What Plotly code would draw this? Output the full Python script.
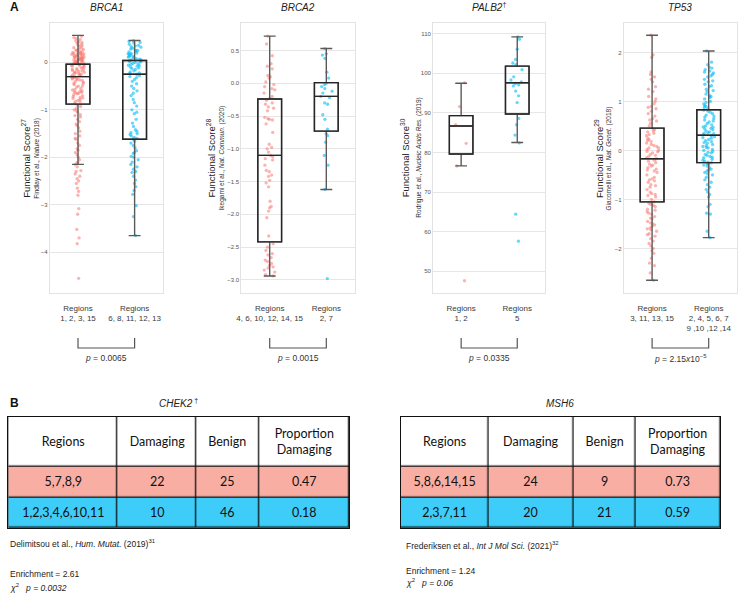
import plotly.graph_objects as go

W, H = 738, 594

# ---------------- data ----------------
genes = ["BRCA1", "BRCA2", "PALB2", "TP53"]
titles = ["<i>BRCA1</i>", "<i>BRCA2</i>", "<i>PALB2</i><sup>†</sup>", "<i>TP53</i>"]
cat_labels = [
    ["Regions<br>1, 2, 3, 15", "Regions<br>6, 8, 11, 12, 13"],
    ["Regions<br>4, 6, 10, 12, 14, 15", "Regions<br>2, 7"],
    ["Regions<br>1, 2", "Regions<br>5"],
    ["Regions<br>3, 11, 13, 15", "Regions<br>2, 4, 5, 6, 7<br>9 ,10 ,12 ,14"],
]
ref_sup = ["27", "28", "30", "29"]
ref_text = [
    "Findlay et al., <i>Nature</i> (2018)",
    "Ikegami et al., <i>Nat. Commun.</i> (2020)",
    "Rodrigue et al., <i>Nucleic Acids Res.</i> (2019)",
    "Giacomelli et al., <i>Nat. Genet.</i> (2018)",
]
p_values = ["<i>p</i> = 0.0065", "<i>p</i> = 0.0015", "<i>p</i> = 0.0335",
            "<i>p</i> = 2.15<i>x</i>10<sup>−5</sup>"]

# box statistics (red group, blue group): q1, median, q3, lowerfence, upperfence
box_stats = [
    [(-0.88, -0.30, -0.04, -2.15, 0.57), (-1.62, -0.25, 0.04, -3.65, 0.46)],
    [(-2.42, -1.10, -0.24, -2.94, 0.72), (-0.73, -0.20, 0.01, -1.62, 0.53)],
    [(79.6, 86.7, 89.3, 76.6, 97.5), (89.7, 97.6, 101.8, 82.5, 109.2)],
    [(-1.05, -0.17, 0.455, -2.65, 2.35), (-0.25, 0.31, 0.83, -1.78, 2.03)],
]

brca1_red = [0.55, 0.52, 0.48, 0.45, 0.43, 0.4, 0.38, 0.36, 0.33, 0.31, 0.3, 0.28, 0.26, 0.25,
             0.23, 0.22, 0.2, 0.19, 0.18, 0.17, 0.16, 0.15, 0.14, 0.13, 0.12, 0.11, 0.1, 0.09,
             0.08, 0.07, 0.06, 0.05, 0.04, 0.03, 0.02, 0.01, 0.0, -0.01, -0.02, -0.03, -0.04,
             -0.05, -0.06, -0.08, -0.1, -0.12, -0.14, -0.15, -0.17, -0.19, -0.2, -0.22, -0.24,
             -0.25, -0.27, -0.29, -0.3, -0.32, -0.34, -0.35, -0.37, -0.4, -0.42, -0.45, -0.47,
             -0.5, -0.52, -0.55, -0.57, -0.6, -0.62, -0.64, -0.66, -0.7, -0.72, -0.75, -0.78,
             -0.8, -0.83, -0.86, -0.9, -0.93, -0.97, -1.0, -1.05, -1.1, -1.15, -1.2, -1.25,
             -1.3, -1.38, -1.45, -1.5, -1.55, -1.62, -1.7, -1.75, -1.82, -1.9, -1.95, -2.0,
             -2.05, -2.1, -2.15, -2.2, -2.28, -2.35, -2.4, -2.45, -2.5, -2.55, -2.65, -2.72,
             -2.8, -3.08, -3.2, -3.52, -3.7, -3.82, -4.55,
             0.5, 0.42, 0.35, 0.27, 0.21, 0.16, 0.11, 0.06, 0.02, -0.02, -0.07, -0.13, -0.18,
             -0.23, -0.28, -0.33, -0.38, -0.44, -0.5, -0.58, -0.63, -0.68, -0.74, -0.82, 0.18,
             0.14, 0.08, 0.03, -0.03, -0.09, -0.16, -0.21, -0.26, -0.31, -0.36, -0.61, -0.65,
             -0.76, -1.02, -1.12, -1.33, -1.6, -1.85, -2.12, -2.3, -0.02, 0.1, 0.2, 0.05]
brca1_blue = [0.46, 0.44, 0.41, 0.38, 0.36, 0.33, 0.3, 0.28, 0.25, 0.22, 0.2, 0.18, 0.15, 0.13,
              0.1, 0.08, 0.06, 0.04, 0.02, 0.0, -0.02, -0.04, -0.06, -0.08, -0.1, -0.12, -0.15,
              -0.18, -0.2, -0.22, -0.25, -0.28, -0.32, -0.36, -0.4, -0.45, -0.5, -0.55, -0.6,
              -0.65, -0.7, -0.78, -0.85, -0.92, -1.0, -1.08, -1.2, -1.28, -1.35, -1.42, -1.48,
              -1.52, -1.55, -1.58, -1.62, -1.66, -1.7, -1.75, -1.8, -1.86, -1.92, -1.98, -2.05,
              -2.1, -2.15, -2.2, -2.25, -2.32, -2.4, -2.48, -2.55, -2.62, -2.7, -2.78, -3.02,
              -3.25, -3.65, 0.42, 0.35, 0.26, 0.17, 0.11, 0.05, 0.01, -0.03, -0.07, 0.03, 0.07,
              0.12, 0.19, 0.24, 0.32, -0.13, -0.23, -1.45, -1.5, -1.6, -1.9, -2.0, -2.3, -1.05,
              -0.3]
brca2_red = [0.72, 0.6, 0.42, 0.3, 0.26, 0.22, 0.12, 0.1, 0.08, 0.02, -0.02, -0.05, -0.08, -0.1,
             -0.15, -0.2, -0.23, -0.26, -0.3, -0.32, -0.36, -0.38, -0.42, -0.52, -0.54, -0.55,
             -0.56, -0.62, -0.75, -0.93, -0.98, -1.0, -1.05, -1.1, -1.12, -1.15, -1.17, -1.25,
             -1.33, -1.35, -1.4, -1.42, -1.48, -1.52, -1.58, -1.8, -1.88, -1.9, -1.95, -2.05,
             -2.33, -2.45, -2.5, -2.55, -2.6, -2.62, -2.66, -2.7, -2.72, -2.75, -2.78, -2.8,
             -2.82, -2.85, -2.88, -2.92, -2.94]
brca2_blue = [0.53, 0.45, 0.43, 0.38, 0.17, 0.08, 0.0, -0.02, -0.05, -0.08, -0.12, -0.15, -0.2,
              -0.22, -0.3, -0.32, -0.48, -0.55, -0.7, -0.77, -0.8, -0.9, -1.1, -1.25, -1.62, -2.98]
palb2_red = [97.6, 91.6, 87.0, 82.3, 76.6, 47.6]
palb2_blue = [109.2, 108.6, 106.1, 103.5, 102.6, 102.2, 100.9, 99.1, 98.3, 97.8, 97.4, 97.1,
              96.8, 95.5, 94.3, 92.6, 88.6, 87.0, 84.4, 82.4, 64.4, 57.6]
tp53_red = [2.35, 1.95, 1.9, 1.6, 1.55, 1.5, 1.45, 1.4, 1.3, 1.25, 1.2, 1.1, 1.0, 0.95, 0.9,
            0.85, 0.8, 0.75, 0.7, 0.65, 0.6, 0.55, 0.5, 0.45, 0.4, 0.38, 0.35, 0.3, 0.25, 0.2,
            0.15, 0.1, 0.08, 0.05, 0.02, 0.0, -0.03, -0.05, -0.08, -0.1, -0.12, -0.15, -0.17,
            -0.2, -0.22, -0.25, -0.28, -0.3, -0.35, -0.38, -0.4, -0.45, -0.5, -0.55, -0.58,
            -0.62, -0.65, -0.7, -0.75, -0.8, -0.85, -0.88, -0.9, -0.95, -1.0, -1.05, -1.08,
            -1.1, -1.15, -1.2, -1.25, -1.3, -1.35, -1.4, -1.45, -1.5, -1.55, -1.6, -1.65, -1.7,
            -1.75, -1.8, -1.85, -1.9, -1.95, -2.0, -2.05, -2.1, -2.2, -2.3, -2.35, -2.5, -2.65,
            0.05, -0.02, 0.12, 0.32, -0.42, -0.6, -0.72, -0.92, -1.12, -1.22, -1.28, -1.38,
            -1.48, -1.52, -1.58, -1.62, -1.72, 0.42, 0.62, 0.88, 1.05, -0.32, 0.18, 0.22]
tp53_blue = [2.03, 1.8, 1.75, 1.7, 1.68, 1.65, 1.62, 1.58, 1.55, 1.5, 1.45, 1.4, 1.35, 1.3,
             1.25, 1.2, 1.15, 1.1, 1.05, 1.0, 0.95, 0.9, 0.85, 0.8, 0.75, 0.7, 0.65, 0.6, 0.55,
             0.5, 0.45, 0.4, 0.35, 0.3, 0.25, 0.2, 0.15, 0.1, 0.05, 0.0, -0.05, -0.1, -0.15,
             -0.2, -0.25, -0.3, -0.35, -0.4, -0.45, -0.5, -0.55, -0.6, -0.7, -0.8, -0.85, -0.9,
             -0.95, -1.1, -1.15, -1.28, -1.3, -1.65, -1.78, 1.6, 1.42, 1.22, 1.08, 0.98, 0.88,
             0.78, 0.68, 0.62, 0.52, 0.47, 0.42, 0.38, 0.32, 0.28, 0.22, 0.18, 0.12, 0.08, 0.02,
             -0.02, -0.08, -0.12, -0.18, -0.22, -0.27, -0.32, -0.38, -0.42, -0.48, -0.65, -0.75,
             1.52, 1.12, 0.92, 0.72, 0.58, 0.48, 0.36, 0.26, 0.16, 0.06, -0.04, -0.14, -0.24,
             1.32, 0.82, 0.44, 0.34, -0.28]
points = [(brca1_red, brca1_blue), (brca2_red, brca2_blue),
          (palb2_red, palb2_blue), (tp53_red, tp53_blue)]

y_ranges = [[-4.86, 0.83], [-3.2, 0.92], [44.5, 112.7], [-2.91, 2.6]]
y_dticks = [1, 0.5, 10, 1]
y_formats = ["d", ".1f", "d", "d"]

# tables
table_header = ["Regions", "Damaging", "Benign", "Proportion<br>Damaging"]
chek2_regions = ["5,7,8,9", "1,2,3,4,6,10,11"]
chek2_damaging = [22, 10]
chek2_benign = [25, 46]
chek2_prop = ["0.47", "0.18"]
msh6_regions = ["5,8,6,14,15", "2,3,7,11"]
msh6_damaging = [24, 20]
msh6_benign = [9, 21]
msh6_prop = ["0.73", "0.59"]

# ---------------- layout helpers ----------------
def px(x):
    return x / W

def py(y):
    return 1 - y / H

FONT = "Liberation Sans, Arial, sans-serif"
RED_PT = "rgba(248,118,109,0.55)"
BLUE_PT = "rgba(0,186,245,0.6)"
plot_x = [(45, 159), (238, 352), (431, 544), (623, 737)]
plot_y = (23, 293)
title_main_x = [21, 207, 403, 598]
title_sub_x = [32, 218, 416.5, 608.5]

fig = go.Figure()
layout = dict(width=W, height=H, margin=dict(l=0, r=0, t=0, b=0),
              paper_bgcolor="white", plot_bgcolor="white", showlegend=False,
              font=dict(family=FONT, color="#333"), boxmode="overlay")
annotations = []
shapes = []

for i in range(4):
    xa = "x" if i == 0 else f"x{i+1}"
    ya = "y" if i == 0 else f"y{i+1}"
    cats = cat_labels[i]
    for g, (vals, col) in enumerate(zip(points[i], [RED_PT, BLUE_PT])):
        fig.add_trace(go.Box(
            x=[cats[g]] * len(vals), y=vals, xaxis=xa, yaxis=ya,
            boxpoints="all", jitter=0.55, pointpos=0, width=0.42,
            fillcolor="rgba(0,0,0,0)", line=dict(width=0, color="rgba(0,0,0,0)"),
            marker=dict(size=3.3, color=col, line=dict(width=0)),
            hoverinfo="skip"))
    for g in range(2):
        q1, med, q3, lo, hi = box_stats[i][g]
        # whiskers (grey)
        fig.add_trace(go.Box(
            x=[cats[g]], q1=[q1], median=[med], q3=[q3], lowerfence=[lo], upperfence=[hi],
            xaxis=xa, yaxis=ya, boxpoints=False, width=0.42, whiskerwidth=0.5,
            fillcolor="rgba(0,0,0,0)", line=dict(width=1.4, color="#5a5a5a"),
            hoverinfo="skip"))
        # box body (dark)
        fig.add_trace(go.Box(
            x=[cats[g]], q1=[q1], median=[med], q3=[q3], lowerfence=[q1], upperfence=[q3],
            xaxis=xa, yaxis=ya, boxpoints=False, width=0.42, whiskerwidth=0,
            fillcolor="rgba(0,0,0,0)", line=dict(width=1.4, color="#262626"),
            hoverinfo="skip"))
    x0, x1 = plot_x[i]
    layout["xaxis" if i == 0 else f"xaxis{i+1}"] = dict(
        domain=[px(x0), px(x1)], anchor=ya, type="category", categoryorder="array",
        categoryarray=cats, range=[-0.5, 1.5], showgrid=False, zeroline=False,
        showline=True, mirror=True, linecolor="#e3e3e3", linewidth=1, ticks="",
        ticklabelstandoff=7, tickfont=dict(size=8, color="#3a3a3a", family=FONT))
    layout["yaxis" if i == 0 else f"yaxis{i+1}"] = dict(
        domain=[py(plot_y[1]), py(plot_y[0])], anchor=xa, range=y_ranges[i],
        dtick=y_dticks[i], tickformat=y_formats[i], showgrid=True, gridcolor="#e6e6e6",
        gridwidth=1, zeroline=False, showline=True, mirror=True, linecolor="#e3e3e3",
        linewidth=1, ticks="", tickfont=dict(size=6, color="#555", family=FONT))
    cx = (x0 + x1) / 2
    annotations.append(dict(text=titles[i], x=px(cx), y=py(7), xref="paper", yref="paper",
                            showarrow=False, font=dict(size=10, color="#222", family=FONT),
                            xanchor="center", yanchor="middle"))
    annotations.append(dict(text=f"Functional Score<sup>{ref_sup[i]}</sup>",
                            x=px(title_main_x[i]), y=py(158), xref="paper", yref="paper",
                            textangle=-90, showarrow=False,
                            font=dict(size=9.5, color="#222", family=FONT),
                            xanchor="center", yanchor="middle"))
    annotations.append(dict(text=ref_text[i], x=px(title_sub_x[i]), y=py(158), xref="paper",
                            yref="paper", textangle=-90, showarrow=False,
                            font=dict(size=6.5, color="#333", family=FONT),
                            xanchor="center", yanchor="middle"))
    # significance bracket between the two categories
    shapes.append(dict(type="path", xref=xa, yref="paper",
                       path=f"M 0,{py(338)} L 0,{py(348)} L 1,{py(348)} L 1,{py(338)}",
                       line=dict(color="#555", width=1.2)))
    annotations.append(dict(text=p_values[i], x=0.5, y=py(358), xref=xa, yref="paper",
                            showarrow=False, font=dict(size=8.5, color="#333", family=FONT),
                            xanchor="center", yanchor="middle"))

# ---------------- tables (panel B) ----------------
row_h = [50, 30.6, 30.4]
tables = [
    dict(regions=chek2_regions, dam=chek2_damaging, ben=chek2_benign, prop=chek2_prop,
         cols=[110, 79.4, 63, 91], x0=3.3, title="<i>CHEK2</i><sup> †</sup>"),
    dict(regions=msh6_regions, dam=msh6_damaging, ben=msh6_benign, prop=msh6_prop,
         cols=[88.4, 85.6, 63, 84.7], x0=398.3, title="<i>MSH6</i>"),
]
t_top = 416.7
for k, t in enumerate(tables):
    xa, ya = f"x{5+k}", f"y{5+k}"
    xedges = [0]
    for c in t["cols"]:
        xedges.append(xedges[-1] + c)
    yedges = [0]
    for r in row_h:
        yedges.append(yedges[-1] + r)
    text = [table_header,
            [t["regions"][0], str(t["dam"][0]), str(t["ben"][0]), t["prop"][0]],
            [t["regions"][1], str(t["dam"][1]), str(t["ben"][1]), t["prop"][1]]]
    z = [[0] * 4, [1] * 4, [2] * 4]
    fig.add_trace(go.Heatmap(
        x=xedges, y=yedges, z=z, text=text, texttemplate="%{text}", xaxis=xa, yaxis=ya,
        zmin=0, zmax=2, showscale=False, xgap=1.3, ygap=1.3, hoverinfo="skip",
        colorscale=[[0, "#ffffff"], [0.333, "#ffffff"], [0.333, "#f9aea4"],
                    [0.666, "#f9aea4"], [0.666, "#3ecdf9"], [1, "#3ecdf9"]],
        textfont=dict(family="Lato, Carlito, sans-serif", size=12.5, color="#111")))
    width_px = xedges[-1]
    layout[f"xaxis{5+k}"] = dict(domain=[px(t["x0"]), px(t["x0"] + width_px)], anchor=ya,
                                 range=[0, width_px], showgrid=False, zeroline=False,
                                 showticklabels=False, ticks="", showline=True, mirror=True,
                                 linecolor="#111", linewidth=1.3)
    layout[f"yaxis{5+k}"] = dict(domain=[py(t_top + yedges[-1]), py(t_top)], anchor=xa,
                                 range=[yedges[-1], 0], showgrid=False, zeroline=False,
                                 showticklabels=False, ticks="", showline=True, mirror=True,
                                 linecolor="#111", linewidth=1.3)
    shapes.append(dict(type="rect", xref=f"{xa} domain", yref=f"{ya} domain", x0=0, x1=1,
                       y0=0, y1=1, fillcolor="#111", line=dict(width=0), layer="below"))
    annotations.append(dict(text=t["title"], x=px(t["x0"] + width_px / 2), y=py(403),
                            xref="paper", yref="paper", showarrow=False,
                            font=dict(size=10, color="#222", family=FONT),
                            xanchor="center", yanchor="middle"))

# notes under tables
notes = [
    ("Delimitsou et al., <i>Hum. Mutat.</i> (2019)<sup>31</sup>", 3, 543),
    ("Enrichment = 2.61", 3, 574),
    ("<i>χ</i><sup>2</sup>   <i>p = 0.0032</i>", 3, 587),
    ("Frederiksen et al., <i>Int J Mol Sci.</i> (2021)<sup>32</sup>", 402, 545),
    ("Enrichment = 1.24", 402, 571),
    ("<i>χ</i><sup>2</sup>   <i>p = 0.06</i>", 402, 582),
]
for txt, x, y in notes:
    annotations.append(dict(text=txt, x=px(x), y=py(y), xref="paper", yref="paper",
                            showarrow=False, font=dict(size=8.5, color="#222", family=FONT),
                            xanchor="left", yanchor="middle"))

for lab, y in [("A", 7), ("B", 403)]:
    annotations.append(dict(text=f"<b>{lab}</b>", x=px(3), y=py(y), xref="paper",
                            yref="paper", showarrow=False,
                            font=dict(size=12, color="#111", family=FONT),
                            xanchor="left", yanchor="middle"))

layout["annotations"] = annotations
layout["shapes"] = shapes
fig.update_layout(**layout)
fig.write_html("out.html", config={"displayModeBar": False},
               post_script="document.body.style.margin='0';document.body.style.overflow='hidden';")
